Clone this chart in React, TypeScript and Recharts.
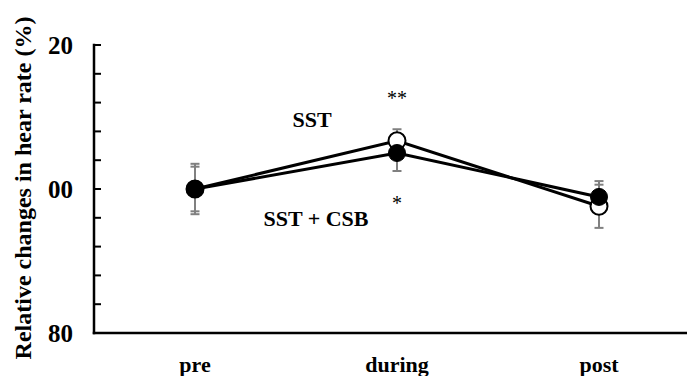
import React from 'react';
import { LineChart, Line, XAxis, YAxis, ErrorBar, ReferenceDot } from 'recharts';

const categories = ['pre', 'during', 'post'];
const sstValues = [100, 106.7, 97.6];
const sstErrors = [3.5, 1.6, 3.0];
const csbValues = [100, 105.0, 98.9];
const csbErrors = [3.1, 2.5, 2.2];

const yTicks = [80, 84, 88, 92, 96, 100, 104, 108, 112, 116, 120];
const yTickLabels: Record<number, string> = { 80: '80', 100: '00', 120: '20' };
const yTitle = 'Relative changes in hear rate (%)';

const annotations = [
  { x: 'during', y: 111.6, text: '**', dx: 0, bold: false, size: 20 },
  { x: 'during', y: 97.1, text: '*', dx: 0, bold: false, size: 20 },
  { x: 'during', y: 108.6, text: 'SST', dx: -85, bold: true, size: 22 },
  { x: 'during', y: 94.8, text: 'SST + CSB', dx: -81, bold: true, size: 22 },
];

const data = categories.map((c, i) => ({
  name: c,
  sst: sstValues[i],
  sstErr: sstErrors[i],
  csb: csbValues[i],
  csbErr: csbErrors[i],
}));

const FONT = '"Liberation Serif", "Times New Roman", serif';

const YTick = (props: any) => {
  const { x, y, payload } = props;
  const label = yTickLabels[payload.value];
  return (
    <g>
      <line x1={x} x2={x + 7} y1={y} y2={y} stroke="#000" strokeWidth={2} />
      {label !== undefined && (
        <text x={x - 21} y={y} dy={9} textAnchor="end" fontFamily={FONT} fontWeight="bold" fontSize={25} fill="#000">
          {label}
        </text>
      )}
    </g>
  );
};

const XTick = (props: any) => {
  const { x, y, payload } = props;
  return (
    <text x={x} y={y + 39} textAnchor="middle" fontFamily={FONT} fontWeight="bold" fontSize={22} fill="#000">
      {payload.value}
    </text>
  );
};

export default function App() {
  return (
    <div style={{ position: 'fixed', left: 0, top: 0, width: 687, height: 376, overflow: 'hidden', background: '#fff' }}>
      <LineChart width={700} height={376} data={data} margin={{ top: 45, right: 0, bottom: 0, left: 0 }}>
        <XAxis
          dataKey="name"
          height={43}
          padding={{ left: 101, right: 101 }}
          tickLine={false}
          tickSize={0}
          tickMargin={0}
          axisLine={{ stroke: '#000', strokeWidth: 2.5, strokeLinecap: 'square' }}
          tick={<XTick />}
          interval={0}
        />
        <YAxis
          width={94}
          domain={[80, 120]}
          ticks={yTicks}
          interval={0}
          tickLine={false}
          tickSize={0}
          tickMargin={0}
          axisLine={{ stroke: '#000', strokeWidth: 2.5, strokeLinecap: 'square' }}
          tick={<YTick />}
          label={{
            content: () => (
              <text
                x={31}
                y={188}
                transform="rotate(-90, 31, 188)"
                textAnchor="middle"
                fontFamily={FONT}
                fontWeight="bold"
                fontSize={24}
                fill="#000"
              >
                {yTitle}
              </text>
            ),
          }}
        />
        <Line
          dataKey="sst"
          stroke="#000"
          strokeWidth={3}
          isAnimationActive={false}
          dot={{ r: 8.5, fill: '#fff', stroke: '#000', strokeWidth: 2 }}
          activeDot={false}
        >
          <ErrorBar dataKey="sstErr" width={4.5} stroke="#808080" strokeWidth={2} direction="y" />
        </Line>
        <Line
          dataKey="csb"
          stroke="#000"
          strokeWidth={3}
          isAnimationActive={false}
          dot={{ r: 8.5, fill: '#000', stroke: '#000', strokeWidth: 1 }}
          activeDot={false}
        >
          <ErrorBar dataKey="csbErr" width={4.5} stroke="#808080" strokeWidth={2} direction="y" />
        </Line>
        {annotations.map((a, i) => (
          <ReferenceDot
            key={i}
            x={a.x}
            y={a.y}
            r={0}
            fill="none"
            stroke="none"
            ifOverflow="visible"
            label={{
              content: (p: any) => {
                const vb = p.viewBox || {};
                const cx = (vb.x ?? 0) + (vb.width ?? 0) / 2;
                const cy = (vb.y ?? 0) + (vb.height ?? 0) / 2;
                return (
                  <text
                    x={cx + a.dx}
                    y={cy}
                    textAnchor="middle"
                    fontFamily={FONT}
                    fontWeight={a.bold ? 'bold' : 'normal'}
                    fontSize={a.size}
                    fill="#000"
                  >
                    {a.text}
                  </text>
                );
              },
            }}
          />
        ))}
      </LineChart>
    </div>
  );
}
